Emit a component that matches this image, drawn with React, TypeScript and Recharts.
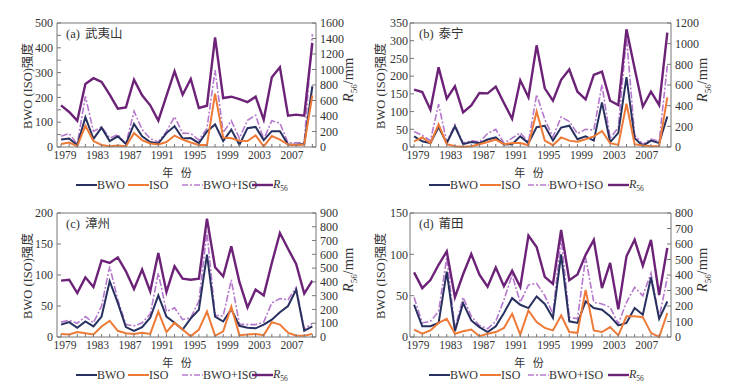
import React from 'react';
import { LineChart, Line, XAxis, YAxis, ReferenceLine } from 'recharts';

const YEARS = [1979, 1980, 1981, 1982, 1983, 1984, 1985, 1986, 1987, 1988, 1989, 1990, 1991, 1992, 1993, 1994,
  1995, 1996, 1997, 1998, 1999, 2000, 2001, 2002, 2003, 2004, 2005, 2006, 2007, 2008, 2009, 2010];
const YEAR_LABELS = [1979, 1983, 1987, 1991, 1995, 1999, 2003, 2007];

// (a) 武夷山
const BWO_A = [30, 34, 7, 120, 33, 78, 24, 43, 12, 93, 43, 20, 14, 56, 84, 34, 36, 16, 63, 91, 24, 70, 9, 76, 81, 28, 64, 64, 10, 9, 12, 245];
const ISO_A = [12, 18, 3, 86, 24, 8, 3, 6, 3, 56, 28, 14, 10, 20, 46, 30, 18, 8, 8, 215, 38, 35, 25, 24, 47, 3, 44, 30, 10, 8, 10, 208];
const SUM_A = [43, 54, 12, 204, 63, 81, 36, 50, 12, 144, 70, 34, 20, 63, 122, 56, 54, 28, 75, 310, 58, 106, 35, 108, 128, 31, 106, 96, 17, 17, 17, 455];
const R56_A = [538, 452, 340, 813, 888, 839, 675, 495, 512, 869, 667, 538, 340, 660, 976, 675, 877, 503, 533, 1415, 632, 649, 619, 580, 649, 353, 899, 1028, 404, 417, 404, 1342];

// (b) 泰宁
const BWO_B = [30, 16, 11, 56, 11, 58, 8, 14, 11, 21, 27, 7, 8, 30, 11, 56, 60, 18, 55, 60, 22, 30, 18, 126, 14, 40, 197, 25, 3, 18, 11, 86];
const ISO_B = [16, 27, 11, 64, 8, 2, 1, 2, 8, 14, 21, 8, 11, 11, 5, 100, 18, 5, 27, 18, 15, 22, 30, 45, 11, 6, 122, 8, 4, 2, 3, 140];
const SUM_B = [44, 33, 18, 121, 14, 63, 11, 18, 14, 38, 50, 11, 25, 40, 14, 148, 78, 28, 85, 72, 38, 50, 48, 176, 25, 55, 312, 33, 8, 22, 16, 230];
const R56_B = [555, 532, 361, 771, 468, 587, 335, 403, 523, 519, 584, 426, 274, 645, 481, 984, 568, 448, 650, 750, 535, 462, 697, 729, 448, 406, 1139, 760, 390, 535, 406, 1106];

// (c) 漳州
const BWO_C = [20, 24, 15, 25, 17, 33, 90, 55, 16, 10, 16, 31, 67, 33, 23, 12, 30, 44, 133, 33, 25, 45, 18, 15, 14, 20, 28, 40, 50, 76, 10, 17];
const ISO_C = [5, 4, 8, 6, 4, 17, 26, 10, 6, 5, 7, 5, 41, 8, 23, 12, 1, 12, 41, 2, 9, 49, 3, 4, 5, 3, 24, 20, 7, 2, 2, 5];
const SUM_C = [24, 27, 22, 33, 23, 50, 114, 60, 20, 18, 23, 37, 103, 41, 47, 28, 31, 58, 170, 35, 34, 92, 21, 20, 20, 24, 55, 62, 60, 80, 13, 22];
const R56_C = [409, 416, 319, 433, 363, 556, 537, 578, 477, 348, 489, 331, 610, 327, 513, 423, 416, 423, 859, 506, 440, 658, 400, 215, 344, 302, 537, 755, 640, 530, 315, 410];

// (d) 莆田
const BWO_D = [39, 13, 13, 17, 79, 7, 41, 20, 12, 6, 13, 29, 47, 39, 35, 49, 40, 23, 100, 19, 17, 43, 35, 33, 25, 14, 17, 35, 27, 72, 22, 43];
const ISO_D = [9, 4, 8, 17, 22, 4, 7, 9, 1, 4, 6, 11, 28, 3, 32, 18, 11, 8, 26, 6, 5, 57, 8, 6, 12, 2, 25, 25, 24, 5, 0, 29];
const SUM_D = [48, 17, 19, 31, 96, 10, 48, 25, 14, 10, 19, 45, 75, 42, 63, 65, 50, 28, 120, 24, 22, 96, 42, 40, 36, 16, 42, 60, 50, 77, 23, 72];
const R56_D = [417, 315, 367, 466, 552, 256, 405, 535, 402, 324, 448, 328, 428, 323, 654, 581, 388, 342, 690, 366, 403, 530, 627, 315, 478, 178, 521, 627, 460, 627, 270, 575];

const C_BWO = '#27305f';
const C_ISO = '#ee7a38';
const C_SUM = '#b678cc';
const C_R56 = '#6c2277';
const AXIS = '#777';
const TXT = '#333';
const SERIF = '"Liberation Serif", "Times New Roman", serif';
const CJK = '"Noto Sans CJK SC", sans-serif';

// legend line starts for the left-hand and right-hand panels
const LEG_LEFT = [76, 128, 182, 252];
const LEG_RIGHT = [53, 104, 152, 232];

type PanelCfg = {
  x: number; y: number; tag: string; name: string;
  bwo: number[]; iso: number[]; sum: number[]; r56: number[];
  lMax: number; lTicks: number[]; lStep: number;
  rMax: number; rTicks: number[];
  yl: number; yr: number; margin: number;
  lTitleX: number; rTitleX: number; xTitleX: number; leg: number[];
};

const PANELS: PanelCfg[] = [
  { x: 0, y: 0, tag: '(a)', name: '武夷山', bwo: BWO_A, iso: ISO_A, sum: SUM_A, r56: R56_A,
    lMax: 500, lTicks: [0, 50, 100, 150, 200, 250, 300, 350, 400, 450, 500], lStep: 100,
    rMax: 1600, rTicks: [0, 200, 400, 600, 800, 1000, 1200, 1400, 1600],
    yl: 57, yr: 60, margin: 8, lTitleX: 28, rTitleX: 350, xTitleX: 177, leg: LEG_LEFT },
  { x: 376, y: 0, tag: '(b)', name: '泰宁', bwo: BWO_B, iso: ISO_B, sum: SUM_B, r56: R56_B,
    lMax: 350, lTicks: [0, 50, 100, 150, 200, 250, 300, 350], lStep: 50,
    rMax: 1200, rTicks: [0, 200, 400, 600, 800, 1000, 1200],
    yl: 34, yr: 81, margin: 6, lTitleX: 5, rTitleX: 328, xTitleX: 153, leg: LEG_RIGHT },
  { x: 0, y: 190, tag: '(c)', name: '漳州', bwo: BWO_C, iso: ISO_C, sum: SUM_C, r56: R56_C,
    lMax: 200, lTicks: [0, 50, 100, 150, 200], lStep: 50,
    rMax: 900, rTicks: [0, 100, 200, 300, 400, 500, 600, 700, 800, 900],
    yl: 57, yr: 60, margin: 8, lTitleX: 28, rTitleX: 350, xTitleX: 177, leg: LEG_LEFT },
  { x: 376, y: 190, tag: '(d)', name: '莆田', bwo: BWO_D, iso: ISO_D, sum: SUM_D, r56: R56_D,
    lMax: 150, lTicks: [0, 50, 100, 150], lStep: 50,
    rMax: 800, rTicks: [0, 100, 200, 300, 400, 500, 600, 700, 800],
    yl: 34, yr: 81, margin: 6, lTitleX: 5, rTitleX: 328, xTitleX: 153, leg: LEG_RIGHT },
];

const tickStyle = { fontSize: 12, fill: TXT, fontFamily: SERIF };

const YearTick: React.FC<any> = ({ x, y, payload }) => {
  const v = payload?.value;
  if (!YEAR_LABELS.includes(v)) return null;
  return (
    <text x={x + 4} y={y} dy="0.71em" textAnchor="middle" fontSize={11.5} fill={TXT} fontFamily={SERIF}>{v}</text>
  );
};

const Rot: React.FC<{ x: number; y: number; size?: number; children: React.ReactNode }> = ({ x, y, size = 12.5, children }) => (
  <div style={{ position: 'absolute', left: x, top: y, transform: 'translate(-50%, -50%) rotate(-90deg)', whiteSpace: 'nowrap', color: TXT, fontSize: size, fontFamily: SERIF, lineHeight: 1 }}>
    {children}
  </div>
);

const R56Label: React.FC = () => (
  <span style={{ fontFamily: SERIF }}>
    <i>R</i><sub style={{ fontSize: '0.62em', verticalAlign: 'sub' }}>56</sub>
  </span>
);

const LegendItem: React.FC<{ x: number; color: string; dash?: string; width?: number; children: React.ReactNode }> = ({ x, color, dash, width = 2, children }) => (
  <div style={{ position: 'absolute', left: x, top: 178, height: 14, display: 'flex', alignItems: 'center', whiteSpace: 'nowrap', fontFamily: SERIF, fontSize: 12, color: TXT }}>
    <svg width={21} height={8}>
      <line x1={0} y1={4} x2={21} y2={4} stroke={color} strokeWidth={width} strokeDasharray={dash} />
    </svg>
    <span>{children}</span>
  </div>
);

const Panel: React.FC<{ p: PanelCfg }> = ({ p }) => {
  const data = YEARS.map((yr, i) => ({ year: yr, bwo: p.bwo[i], iso: p.iso[i], sum: p.sum[i], r56: p.r56[i] }));
  return (
    <div style={{ position: 'absolute', left: p.x, top: p.y, width: 376, height: 196 }}>
      <LineChart width={376} height={196} data={data} margin={{ top: 23, right: 0, bottom: 29, left: 0 }}>
        <XAxis dataKey="year" type="number" domain={[1978.5, 2010.45]} ticks={YEARS} interval={0}
          height={20} tickSize={-3} tickMargin={7} stroke={AXIS} tick={<YearTick />} allowDataOverflow />
        <YAxis yAxisId="l" orientation="left" width={p.yl} domain={[0, p.lMax]} ticks={p.lTicks} interval={0}
          tickFormatter={(v: number) => (v % p.lStep === 0 ? String(v) : '')}
          tickSize={-4} tickMargin={p.margin} stroke={AXIS} tick={tickStyle} />
        <YAxis yAxisId="r" orientation="right" width={p.yr} domain={[0, p.rMax]} ticks={p.rTicks} interval={0}
          tickSize={-4} tickMargin={8} stroke={AXIS} tick={tickStyle} />
        <ReferenceLine yAxisId="l" y={p.lMax} stroke={AXIS} />
        <Line yAxisId="l" dataKey="sum" stroke={C_SUM} strokeWidth={1.6} strokeDasharray="7 2 2 2" dot={false} isAnimationActive={false} />
        <Line yAxisId="l" dataKey="bwo" stroke={C_BWO} strokeWidth={2} dot={false} isAnimationActive={false} />
        <Line yAxisId="l" dataKey="iso" stroke={C_ISO} strokeWidth={2} dot={false} isAnimationActive={false} />
        <Line yAxisId="r" dataKey="r56" stroke={C_R56} strokeWidth={2.4} dot={false} isAnimationActive={false} />
      </LineChart>
      <div style={{ position: 'absolute', left: p.yl + 9, top: 27, color: TXT, fontSize: 12.5, lineHeight: 1, whiteSpace: 'nowrap' }}>
        <span style={{ fontFamily: SERIF }}>{p.tag}</span>
        <span style={{ fontFamily: CJK, marginLeft: 5 }}>{p.name}</span>
      </div>
      <Rot x={p.lTitleX} y={86}>
        <span>BWO (ISO)</span><span style={{ fontFamily: CJK }}>强度</span>
      </Rot>
      <Rot x={p.rTitleX} y={80} size={14.5}>
        <R56Label />/mm
      </Rot>
      <div style={{ position: 'absolute', left: p.xTitleX, top: 172, transform: 'translate(-50%, -50%)', fontFamily: CJK, fontSize: 11, color: TXT, whiteSpace: 'nowrap' }}>
        年&nbsp;&nbsp;&nbsp;份
      </div>
      <LegendItem x={p.leg[0]} color={C_BWO}>BWO</LegendItem>
      <LegendItem x={p.leg[1]} color={C_ISO}>ISO</LegendItem>
      <LegendItem x={p.leg[2]} color={C_SUM} dash="6 2 2 2" width={1.6}>BWO+ISO</LegendItem>
      <LegendItem x={p.leg[3]} color={C_R56} width={2.4}><R56Label /></LegendItem>
    </div>
  );
};

export default function App() {
  return (
    <div style={{ position: 'absolute', left: 0, top: 0, width: 752, height: 392, background: '#fff', overflow: 'hidden' }}>
      {PANELS.map((p) => <Panel key={p.tag} p={p} />)}
    </div>
  );
}
